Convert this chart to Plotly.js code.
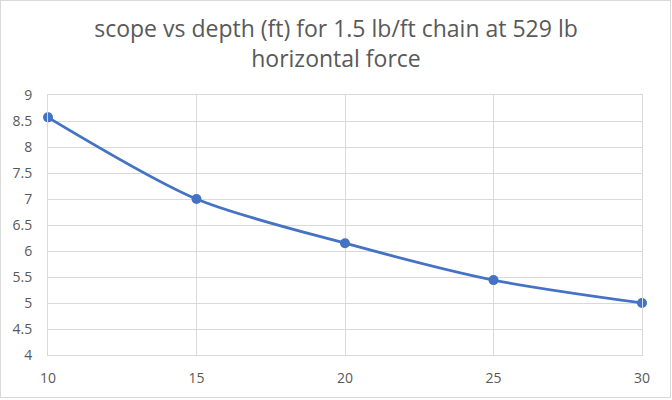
<!DOCTYPE html>
<html><head><meta charset="utf-8">
<script src="https://cdn.plot.ly/plotly-3.0.1.min.js"></script>
<style>
html,body{margin:0;padding:0;background:#fff;}
#wrap{position:relative;width:672px;height:400px;}
#chart{width:672px;height:400px;}
#border{position:absolute;left:0;top:0;width:669px;height:396px;border:1px solid #d9d9d9;pointer-events:none;}
</style>
</head><body>
<div id="wrap"><div id="chart"></div><div id="border"></div></div>
<script>
var depth = [10, 15, 20, 25, 30];
var scope = [8.57, 7.0, 6.15, 5.44, 5.0];
var xTicks = [10, 15, 20, 25, 30];
var yTicks = [4, 4.5, 5, 5.5, 6, 6.5, 7, 7.5, 8, 8.5, 9];
var titleText = 'scope vs depth (ft) for 1.5 lb/ft chain at 529 lb<br>horizontal force';

var trace = {
  x: depth, y: scope, type: 'scatter', mode: 'lines+markers', cliponaxis: false,
  line: {color: '#4472C4', width: 2.75, shape: 'spline', smoothing: 0.8},
  marker: {color: '#4472C4', size: 10}
};
var layout = {
  width: 672, height: 400,
  margin: {l: 48, r: 30, t: 95, b: 45},
  paper_bgcolor: '#fff', plot_bgcolor: '#fff',
  title: {text: titleText, x: 0.5, xanchor: 'center', yref: 'container', y: 0.908, yanchor: 'top',
    font: {family: 'Open Sans, sans-serif', size: 23, color: '#595959'}},
  xaxis: {range: [10, 30], tickvals: xTicks, showgrid: true, gridcolor: '#d9d9d9', gridwidth: 1,
    zeroline: false, showline: true, linecolor: '#d9d9d9', mirror: true, ticklabelstandoff: 10,
    ticks: '', ticklen: 0, tickfont: {family: 'Open Sans, sans-serif', size: 14, color: '#595959'}},
  yaxis: {range: [4, 9], tickvals: yTicks, showgrid: true, gridcolor: '#d9d9d9', gridwidth: 1,
    zeroline: false, showline: true, linecolor: '#d9d9d9', mirror: true, ticklabelstandoff: 12,
    ticks: '', tickfont: {family: 'Open Sans, sans-serif', size: 14, color: '#595959'}},
  showlegend: false
};
Plotly.newPlot('chart', [trace], layout, {displayModeBar: false, staticPlot: true});
</script>
</body></html>
